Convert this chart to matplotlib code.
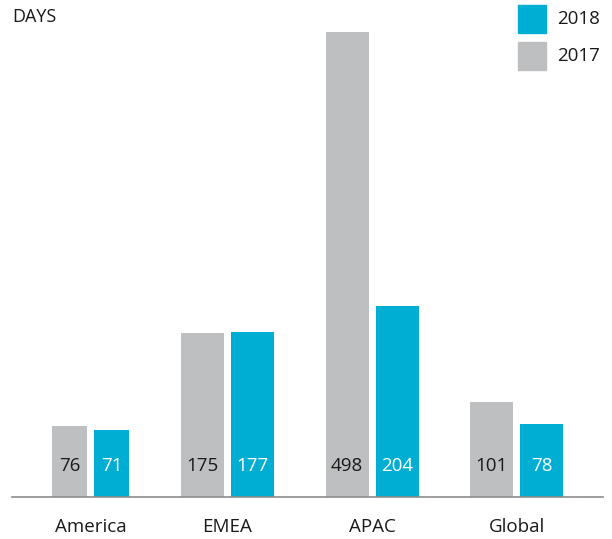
import numpy as np
from matplotlib import pyplot as plt
from matplotlib.patches import Rectangle

# data
regions = ["America", "EMEA", "APAC", "Global"]
days_2017 = [76, 175, 498, 101]
days_2018 = [71, 177, 204, 78]
years = ["2018", "2017"]

# layout (pixel-based, figure is 612x539)
W, H = 612, 539
centers = [90.5, 227, 372, 516.5]
widths = [35, 43, 43, 43]
gap = 7

BLUE = "#00aed3"
GRAY = "#bebfc1"
TEXT = "#1a1a1a"

plt.rcParams['font.family'] = ['Open Sans', 'DejaVu Sans']

fig = plt.figure(figsize=(W / 100, H / 100), dpi=100)
x0, x1 = 12, 603
base_y, top_y = 496.7, 32
ax = fig.add_axes([x0 / W, (H - base_y) / H, (x1 - x0) / W, (base_y - top_y) / H])
ax.set_xlim(x0, x1)
ax.set_ylim(0, max(days_2017 + days_2018))

for c, w, v17, v18 in zip(centers, widths, days_2017, days_2018):
    xg = c - gap / 2 - w / 2
    xb = c + gap / 2 + w / 2
    ax.bar(xg, v17, width=w, color=GRAY, clip_on=False)
    ax.bar(xb, v18, width=w, color=BLUE, clip_on=False)
    ax.text(xg, 33, str(v17), ha='center', va='center', fontsize=13.5, color=TEXT)
    ax.text(xb, 33, str(v18), ha='center', va='center', fontsize=13.5, color='white')

ax.set_xticks(centers)
ax.set_xticklabels(regions, fontsize=13.5, color=TEXT)
ax.tick_params(axis='x', length=0, pad=15)
ax.set_yticks([])
for s in ['top', 'left', 'right']:
    ax.spines[s].set_visible(False)
ax.spines['bottom'].set_color('#8c8c8c')
ax.spines['bottom'].set_linewidth(1.2)

fig.text(12 / W, 1 - 17 / H, "DAYS", ha='left', va='center', fontsize=13, color=TEXT)

# legend
for i, (lab, col) in enumerate(zip(years, [BLUE, GRAY])):
    yc = 19 + i * 37
    fig.add_artist(Rectangle((518 / W, 1 - (yc + 14) / H), 28 / W, 28 / H,
                             transform=fig.transFigure, color=col))
    fig.text(557 / W, 1 - yc / H, lab, ha='left', va='center', fontsize=13.5, color=TEXT)

fig.savefig("out.png", dpi=100)
